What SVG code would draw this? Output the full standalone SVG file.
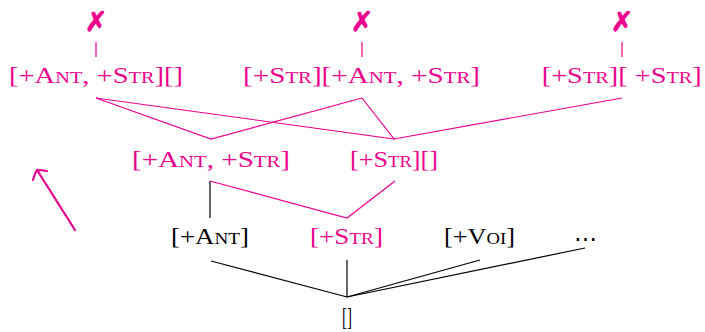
<svg xmlns="http://www.w3.org/2000/svg" width="705" height="332" viewBox="0 0 705 332">
<style>
text{font-family:"Liberation Serif","DejaVu Serif",serif;font-size:22.5px;text-anchor:middle}
.s{font-size:16px}
.p{fill:#ec008c}
.k{fill:#000}
.x{font-family:"DejaVu Sans",sans-serif;font-size:27px;fill:#ec008c;stroke:#ec008c;stroke-width:0.9}
.pl{stroke:#ec008c;stroke-width:1.2;fill:none}
.kl{stroke:#000;stroke-width:1.2;fill:none}
</style>
<rect width="705" height="332" fill="#fff"/>
<g id="connectors">
<line class="pl" x1="96" y1="42" x2="96" y2="57"/>
<line class="pl" x1="362" y1="42" x2="362" y2="57"/>
<line class="pl" x1="622" y1="42" x2="622" y2="57"/>
<polyline class="pl" points="96,98 211,139 362,98"/>
<polyline class="pl" points="96,98 394,139 362,98"/>
<polyline class="pl" points="394,139 622,98"/>
<line class="kl" x1="210" y1="181" x2="210" y2="218"/>
<polyline class="pl" points="210,181 347,218 395,181"/>
<line class="kl" x1="211" y1="261" x2="347" y2="297"/>
<line class="kl" x1="347" y1="260" x2="347" y2="297"/>
<line class="kl" x1="480" y1="260" x2="347" y2="297"/>
<line class="kl" x1="585" y1="248" x2="347" y2="297"/>
<g id="arrow" fill="none" stroke="#ec008c" stroke-width="2.2" stroke-linecap="round">
<line x1="75" y1="230" x2="37" y2="170"/>
<path d="M33,180 Q35,173 37,170 Q41,170 47,171"/>
</g>
</g>
<g id="n1"><text class="x" x="96" y="31">✗</text><text class="p" x="96" y="83" textLength="174" lengthAdjust="spacingAndGlyphs">[+A<tspan class="s">NT</tspan>, +S<tspan class="s">TR</tspan>][]</text></g>
<g id="n2"><text class="x" x="362" y="31">✗</text><text class="p" x="361.5" y="83" textLength="237" lengthAdjust="spacingAndGlyphs">[+S<tspan class="s">TR</tspan>][+A<tspan class="s">NT</tspan>, +S<tspan class="s">TR</tspan>]</text></g>
<g id="n3"><text class="x" x="622" y="31">✗</text><text class="p" x="621.7" y="83" textLength="160" lengthAdjust="spacingAndGlyphs">[+S<tspan class="s">TR</tspan>][ +S<tspan class="s">TR</tspan>]</text></g>
<g id="n4"><text class="p" x="211" y="166.5" textLength="158" lengthAdjust="spacingAndGlyphs">[+A<tspan class="s">NT</tspan>, +S<tspan class="s">TR</tspan>]</text></g>
<g id="n5"><text class="p" x="394" y="166.5" textLength="88" lengthAdjust="spacingAndGlyphs">[+S<tspan class="s">TR</tspan>][]</text></g>
<g id="n6"><text class="k" x="210" y="243.5" textLength="78" lengthAdjust="spacingAndGlyphs">[+A<tspan class="s">NT</tspan>]</text></g>
<g id="n7"><text class="p" x="346.5" y="243.5" textLength="73" lengthAdjust="spacingAndGlyphs">[+S<tspan class="s">TR</tspan>]</text></g>
<g id="n8"><text class="k" x="479.5" y="243.5" textLength="71" lengthAdjust="spacingAndGlyphs">[+V<tspan class="s">OI</tspan>]</text></g>
<g id="n9"><text class="k" x="585" y="246">⋯</text></g>
<g id="root"><text class="k" x="347" y="325" style="font-size:26px" textLength="10" lengthAdjust="spacingAndGlyphs">[]</text></g>
</svg>
